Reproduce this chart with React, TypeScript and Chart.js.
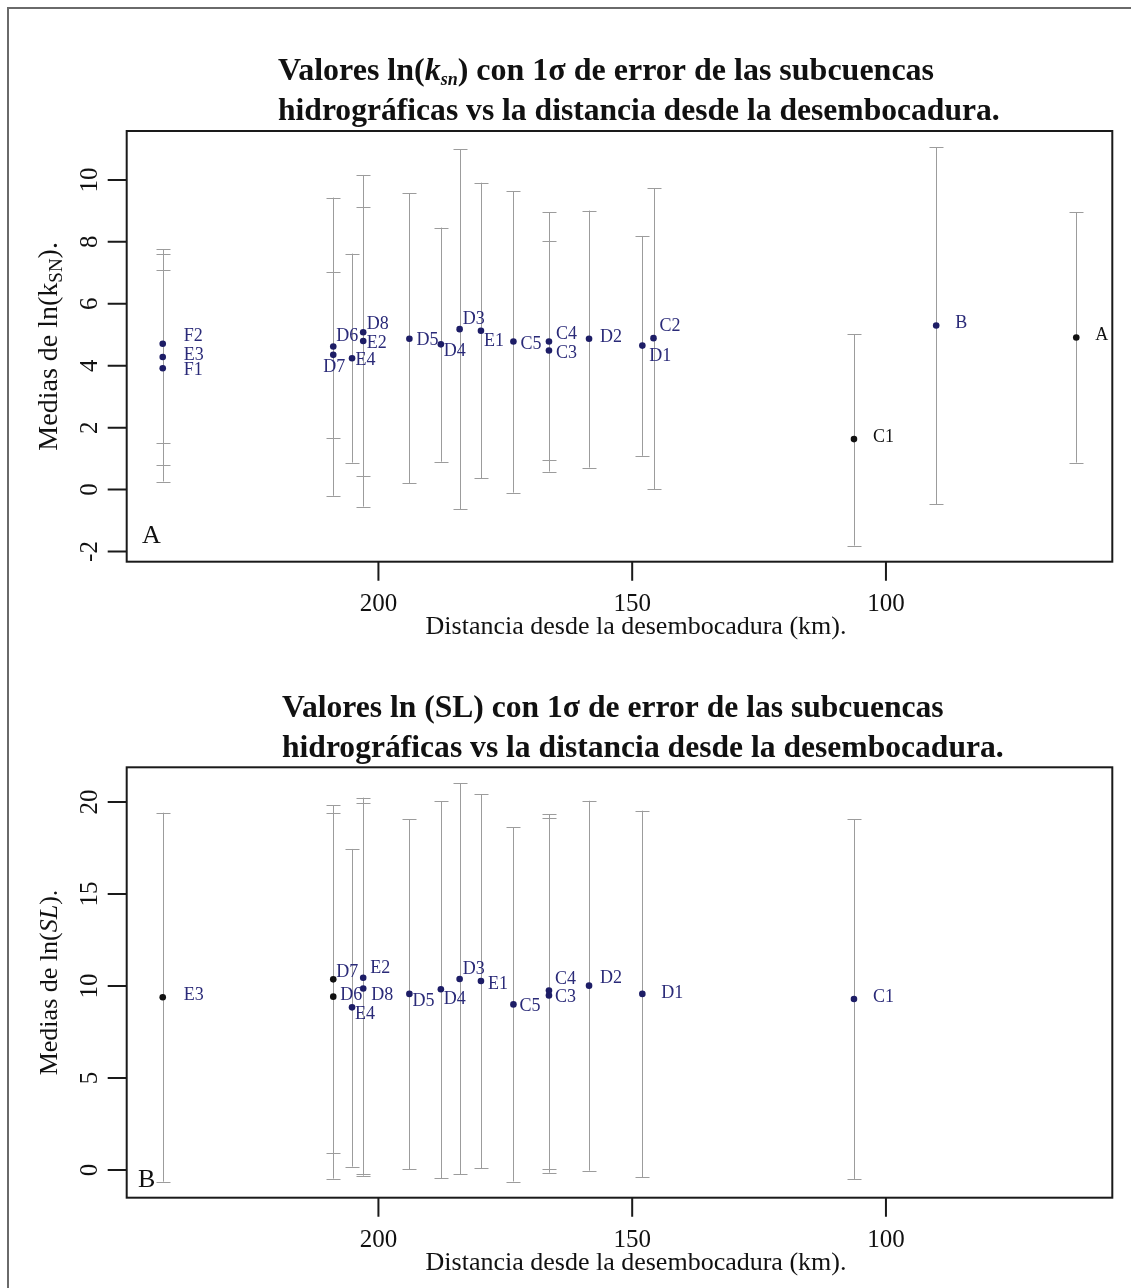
import React, { useEffect, useRef } from "react";
import { Chart, registerables } from "chart.js";
Chart.register(...registerables);

const SERIF = '"Liberation Serif", "Times New Roman", Times, serif';

// ---- shared x axis (distance from the river mouth, km) ----
const X_MIN = 55.4;
const X_MAX = 249.6;
const X_TICKS = [200, 150, 100];

// ---- Panel A: ln(ksn) ----
const KSN_NAMES = ["F2", "E3", "F1", "D6", "D7", "E4", "D8", "E2", "D5", "D4", "D3", "E1", "C5", "C4", "C3", "D2", "D1", "C2", "C1", "B", "A"];
const KSN_DIST = [242.5, 242.5, 242.5, 208.9, 208.9, 205.2, 203.0, 203.0, 193.9, 187.7, 184.0, 179.8, 173.4, 166.4, 166.4, 158.5, 148.0, 145.8, 106.3, 90.1, 62.5];
const KSN_MEAN = [4.71, 4.28, 3.92, 4.62, 4.35, 4.24, 5.08, 4.8, 4.87, 4.69, 5.18, 5.13, 4.78, 4.78, 4.49, 4.87, 4.65, 4.89, 1.63, 5.3, 4.91];
const KSN_LOW = [1.5, 0.8, 0.26, -0.2, 1.66, 0.87, -0.55, 0.44, 0.21, 0.9, -0.63, 0.37, -0.1, 0.58, 0.96, 0.71, 1.09, 0.01, -1.81, -0.47, 0.87];
const KSN_HIGH = [7.76, 7.6, 7.09, 9.43, 7.04, 7.62, 10.16, 9.14, 9.57, 8.46, 10.99, 9.91, 9.64, 8.96, 8.03, 9.01, 8.19, 9.73, 5.02, 11.06, 8.96];
const KSN_Y_TICKS = [-2, 0, 2, 4, 6, 8, 10];
const KSN_Y_MIN = -2.33;
const KSN_Y_MAX = 11.58;

// ---- Panel B: ln(SL) ----
const SL_NAMES = ["E3", "D7", "D6", "E4", "E2", "D8", "D5", "D4", "D3", "E1", "C5", "C4", "C3", "D2", "D1", "C1"];
const SL_DIST = [242.5, 208.9, 208.9, 205.2, 203.0, 203.0, 193.9, 187.7, 184.0, 179.8, 173.4, 166.4, 166.4, 158.5, 148.0, 106.3];
const SL_MEAN = [9.39, 10.36, 9.42, 8.84, 10.45, 9.86, 9.57, 9.82, 10.38, 10.27, 9.0, 9.75, 9.49, 10.02, 9.57, 9.29];
const SL_LOW = [-0.64, 0.94, -0.47, 0.18, -0.2, -0.31, 0.05, -0.45, -0.24, 0.09, -0.63, 0.07, -0.15, -0.04, -0.4, -0.49];
const SL_HIGH = [19.42, 19.84, 19.38, 17.45, 20.24, 19.96, 19.06, 20.05, 21.01, 20.43, 18.62, 19.35, 19.15, 20.07, 19.53, 19.07];
const SL_Y_TICKS = [0, 5, 10, 15, 20];
const SL_Y_MIN = -1.51;
const SL_Y_MAX = 21.89;

// ---- label placement (pixel offsets from the point: label left edge, label middle) ----
const KSN_LABEL_OFFSETS: Record<string, [number, number]> = {
  F2: [21, -7], E3: [21, -2], F1: [21, 2], D6: [3, -10], D7: [-10, 12], E4: [3.5, 2],
  D8: [3.5, -8], E2: [3.5, 2], D5: [7, 2], D4: [3, 7], D3: [3, -10], E1: [3, 11],
  C5: [7, 3], C4: [7, -7], C3: [7, 3], D2: [11, -1], D1: [7, 11], C2: [6, -12],
  C1: [19, -2], B: [19, -2], A: [19, -2],
};
const SL_LABEL_OFFSETS: Record<string, [number, number]> = {
  E3: [21, -2], D7: [3, -7], D6: [7, -1], E4: [3, 7], E2: [7, -9], D8: [8, 7],
  D5: [3, 7], D4: [3, 10], D3: [3, -10], E1: [7, 3], C5: [6, 2], C4: [6, -11],
  C3: [6, 2], D2: [11, -7], D1: [19, -1], C1: [19, -2],
};
const KSN_BLACK_DOTS = ["C1", "A"];
const KSN_BLACK_LABELS = ["C1", "A"];
const SL_BLACK_DOTS = ["E3", "D7", "D6"];
const SL_BLACK_LABELS: string[] = [];

const NAVY = "#1d1d66";
const LABEL_NAVY = "#2a2a78";

type Seg = { t: string; f: string; dy?: number };

function drawRich(ctx: CanvasRenderingContext2D, segs: Seg[], x: number, y: number, align: "left" | "center") {
  let w = 0;
  for (const s of segs) {
    ctx.font = s.f;
    w += ctx.measureText(s.t).width;
  }
  let cx = align === "center" ? x - w / 2 : x;
  ctx.textAlign = "left";
  for (const s of segs) {
    ctx.font = s.f;
    ctx.fillText(s.t, cx, y + (s.dy || 0));
    cx += ctx.measureText(s.t).width;
  }
}

type Panel = {
  names: string[];
  dist: number[];
  mean: number[];
  low: number[];
  high: number[];
  yTicks: number[];
  yMin: number;
  yMax: number;
  offsets: Record<string, [number, number]>;
  blackDots: string[];
  blackLabels: string[];
  title1: Seg[];
  title2: Seg[];
  yTitle: Seg[];
  letter: string;
  canvasTop: number;
  canvasHeight: number;
  areaTop: number;
  areaBottom: number;
  titleBase1: number;
  titleBase2: number;
  titleLeft: number;
  letterX: number;
  letterBase: number;
};

const AREA_LEFT = 126.7;
const AREA_RIGHT = 1112.3;
const PAGE_W = 1131;

function panelPlugin(p: Panel) {
  return {
    id: "panelDecor",
    beforeDatasetsDraw(chart: any) {
      const { ctx } = chart;
      const xs = chart.scales.x;
      const ys = chart.scales.y;
      ctx.save();
      ctx.strokeStyle = "#9c9c9c";
      ctx.lineWidth = 1;
      p.dist.forEach((d, i) => {
        const px = Math.round(xs.getPixelForValue(d)) + 0.5;
        const yl = ys.getPixelForValue(p.low[i]);
        const yh = ys.getPixelForValue(p.high[i]);
        ctx.beginPath();
        ctx.moveTo(px, yl);
        ctx.lineTo(px, yh);
        ctx.moveTo(px - 7, Math.round(yl) + 0.5);
        ctx.lineTo(px + 7, Math.round(yl) + 0.5);
        ctx.moveTo(px - 7, Math.round(yh) + 0.5);
        ctx.lineTo(px + 7, Math.round(yh) + 0.5);
        ctx.stroke();
      });
      ctx.restore();
    },
    afterDatasetsDraw(chart: any) {
      const { ctx } = chart;
      const xs = chart.scales.x;
      const ys = chart.scales.y;
      ctx.save();
      ctx.font = `18px ${SERIF}`;
      ctx.textBaseline = "middle";
      ctx.textAlign = "left";
      p.names.forEach((n, i) => {
        const px = xs.getPixelForValue(p.dist[i]);
        const py = ys.getPixelForValue(p.mean[i]);
        const off = p.offsets[n] || [19, 0];
        ctx.fillStyle = p.blackLabels.includes(n) ? "#111" : LABEL_NAVY;
        ctx.fillText(n, px + off[0], py + off[1]);
      });
      ctx.restore();
    },
    afterDraw(chart: any) {
      const { ctx, chartArea } = chart;
      const xs = chart.scales.x;
      const ys = chart.scales.y;
      const top = p.canvasTop;
      ctx.save();
      // box
      ctx.strokeStyle = "#1a1a1a";
      ctx.lineWidth = 2;
      ctx.strokeRect(chartArea.left, chartArea.top, chartArea.right - chartArea.left, chartArea.bottom - chartArea.top);
      // ticks
      ctx.beginPath();
      for (const t of p.yTicks) {
        const py = ys.getPixelForValue(t);
        ctx.moveTo(chartArea.left, py);
        ctx.lineTo(chartArea.left - 19, py);
      }
      for (const t of X_TICKS) {
        const px = xs.getPixelForValue(t);
        ctx.moveTo(px, chartArea.bottom);
        ctx.lineTo(px, chartArea.bottom + 19);
      }
      ctx.stroke();
      ctx.fillStyle = "#111";
      ctx.font = `25px ${SERIF}`;
      ctx.textBaseline = "alphabetic";
      // y tick labels (rotated)
      for (const t of p.yTicks) {
        const py = ys.getPixelForValue(t);
        ctx.save();
        ctx.translate(96.7, py);
        ctx.rotate(-Math.PI / 2);
        ctx.textAlign = "center";
        ctx.fillText(String(t), 0, 0);
        ctx.restore();
      }
      // x tick labels
      ctx.textAlign = "center";
      for (const t of X_TICKS) {
        const px = xs.getPixelForValue(t);
        ctx.fillText(String(t), px, chartArea.bottom + 49);
      }
      // x title
      drawRich(ctx, [{ t: "Distancia desde la desembocadura (km).", f: `26px ${SERIF}` }], 636, chartArea.bottom + 72.5, "center");
      // y title (rotated)
      ctx.save();
      ctx.translate(57, (chartArea.top + chartArea.bottom) / 2);
      ctx.rotate(-Math.PI / 2);
      drawRich(ctx, p.yTitle, 0, 0, "center");
      ctx.restore();
      // main title
      drawRich(ctx, p.title1, p.titleLeft, p.titleBase1 - top, "left");
      drawRich(ctx, p.title2, p.titleLeft, p.titleBase2 - top, "left");
      // panel letter
      ctx.font = `26px ${SERIF}`;
      ctx.textAlign = "left";
      ctx.fillText(p.letter, p.letterX, p.letterBase - top);
      ctx.restore();
    },
  };
}

function makeChart(canvas: HTMLCanvasElement, p: Panel) {
  const colors = p.names.map((n) => (p.blackDots.includes(n) ? "#111111" : NAVY));
  return new Chart(canvas, {
    type: "scatter",
    data: {
      datasets: [
        {
          data: p.dist.map((x, i) => ({ x, y: p.mean[i] })),
          pointRadius: 3.3,
          pointHoverRadius: 3.3,
          pointBackgroundColor: colors,
          pointBorderColor: colors,
          pointBorderWidth: 0,
        },
      ],
    },
    options: {
      animation: false,
      responsive: false,
      devicePixelRatio: 1,
      events: [],
      layout: {
        padding: {
          left: AREA_LEFT,
          right: PAGE_W - AREA_RIGHT,
          top: p.areaTop - p.canvasTop,
          bottom: p.canvasTop + p.canvasHeight - p.areaBottom,
        },
      },
      scales: {
        x: { type: "linear", min: X_MIN, max: X_MAX, reverse: true, display: false },
        y: { type: "linear", min: p.yMin, max: p.yMax, display: false },
      },
      plugins: { legend: { display: false }, tooltip: { enabled: false }, title: { display: false } },
    } as any,
    plugins: [panelPlugin(p) as any],
  });
}

const B32 = `bold 32px ${SERIF}`;
const B316 = `bold 31.6px ${SERIF}`;

const PANEL_A: Panel = {
  names: KSN_NAMES,
  dist: KSN_DIST,
  mean: KSN_MEAN,
  low: KSN_LOW,
  high: KSN_HIGH,
  yTicks: KSN_Y_TICKS,
  yMin: KSN_Y_MIN,
  yMax: KSN_Y_MAX,
  offsets: KSN_LABEL_OFFSETS,
  blackDots: KSN_BLACK_DOTS,
  blackLabels: KSN_BLACK_LABELS,
  title1: [
    { t: "Valores ln(", f: B32 },
    { t: "k", f: `italic bold 32px ${SERIF}` },
    { t: "sn", f: `italic bold 18px ${SERIF}`, dy: 5 },
    { t: ") con 1σ de error de las subcuencas", f: B32 },
  ],
  title2: [{ t: "hidrográficas vs la distancia desde la desembocadura.", f: B316 }],
  yTitle: [
    { t: "Medias de ln(k", f: `28px ${SERIF}` },
    { t: "SN", f: `19px ${SERIF}`, dy: 5 },
    { t: ").", f: `28px ${SERIF}` },
  ],
  letter: "A",
  canvasTop: 0,
  canvasHeight: 650,
  areaTop: 131,
  areaBottom: 561.7,
  titleBase1: 80,
  titleBase2: 120,
  titleLeft: 278,
  letterX: 142,
  letterBase: 543,
};

const PANEL_B: Panel = {
  names: SL_NAMES,
  dist: SL_DIST,
  mean: SL_MEAN,
  low: SL_LOW,
  high: SL_HIGH,
  yTicks: SL_Y_TICKS,
  yMin: SL_Y_MIN,
  yMax: SL_Y_MAX,
  offsets: SL_LABEL_OFFSETS,
  blackDots: SL_BLACK_DOTS,
  blackLabels: SL_BLACK_LABELS,
  title1: [{ t: "Valores ln (SL) con 1σ de error de las subcuencas", f: B316 }],
  title2: [{ t: "hidrográficas vs la distancia desde la desembocadura.", f: B316 }],
  yTitle: [
    { t: "Medias de ln(", f: `26px ${SERIF}` },
    { t: "SL", f: `italic 26px ${SERIF}` },
    { t: ").", f: `26px ${SERIF}` },
  ],
  letter: "B",
  canvasTop: 650,
  canvasHeight: 638,
  areaTop: 767.3,
  areaBottom: 1197.7,
  titleBase1: 717,
  titleBase2: 757,
  titleLeft: 282,
  letterX: 138,
  letterBase: 1186.7,
};

export default function App() {
  const refA = useRef<HTMLCanvasElement>(null);
  const refB = useRef<HTMLCanvasElement>(null);

  useEffect(() => {
    const charts: Chart[] = [];
    if (refA.current) charts.push(makeChart(refA.current, PANEL_A));
    if (refB.current) charts.push(makeChart(refB.current, PANEL_B));
    return () => charts.forEach((c) => c.destroy());
  }, []);

  return (
    <div style={{ position: "absolute", left: 0, top: 0, width: PAGE_W, height: 1288, background: "#fff", overflow: "hidden" }}>
      <div
        style={{
          position: "absolute",
          left: 7,
          top: 7,
          width: PAGE_W,
          height: 1300,
          borderLeft: "2px solid #6a6a6a",
          borderTop: "2px solid #6a6a6a",
          boxSizing: "border-box",
        }}
      />
      <canvas ref={refA} width={PAGE_W} height={650} style={{ position: "absolute", left: 0, top: 0, width: PAGE_W, height: 650 }} />
      <canvas ref={refB} width={PAGE_W} height={638} style={{ position: "absolute", left: 0, top: 650, width: PAGE_W, height: 638 }} />
    </div>
  );
}
